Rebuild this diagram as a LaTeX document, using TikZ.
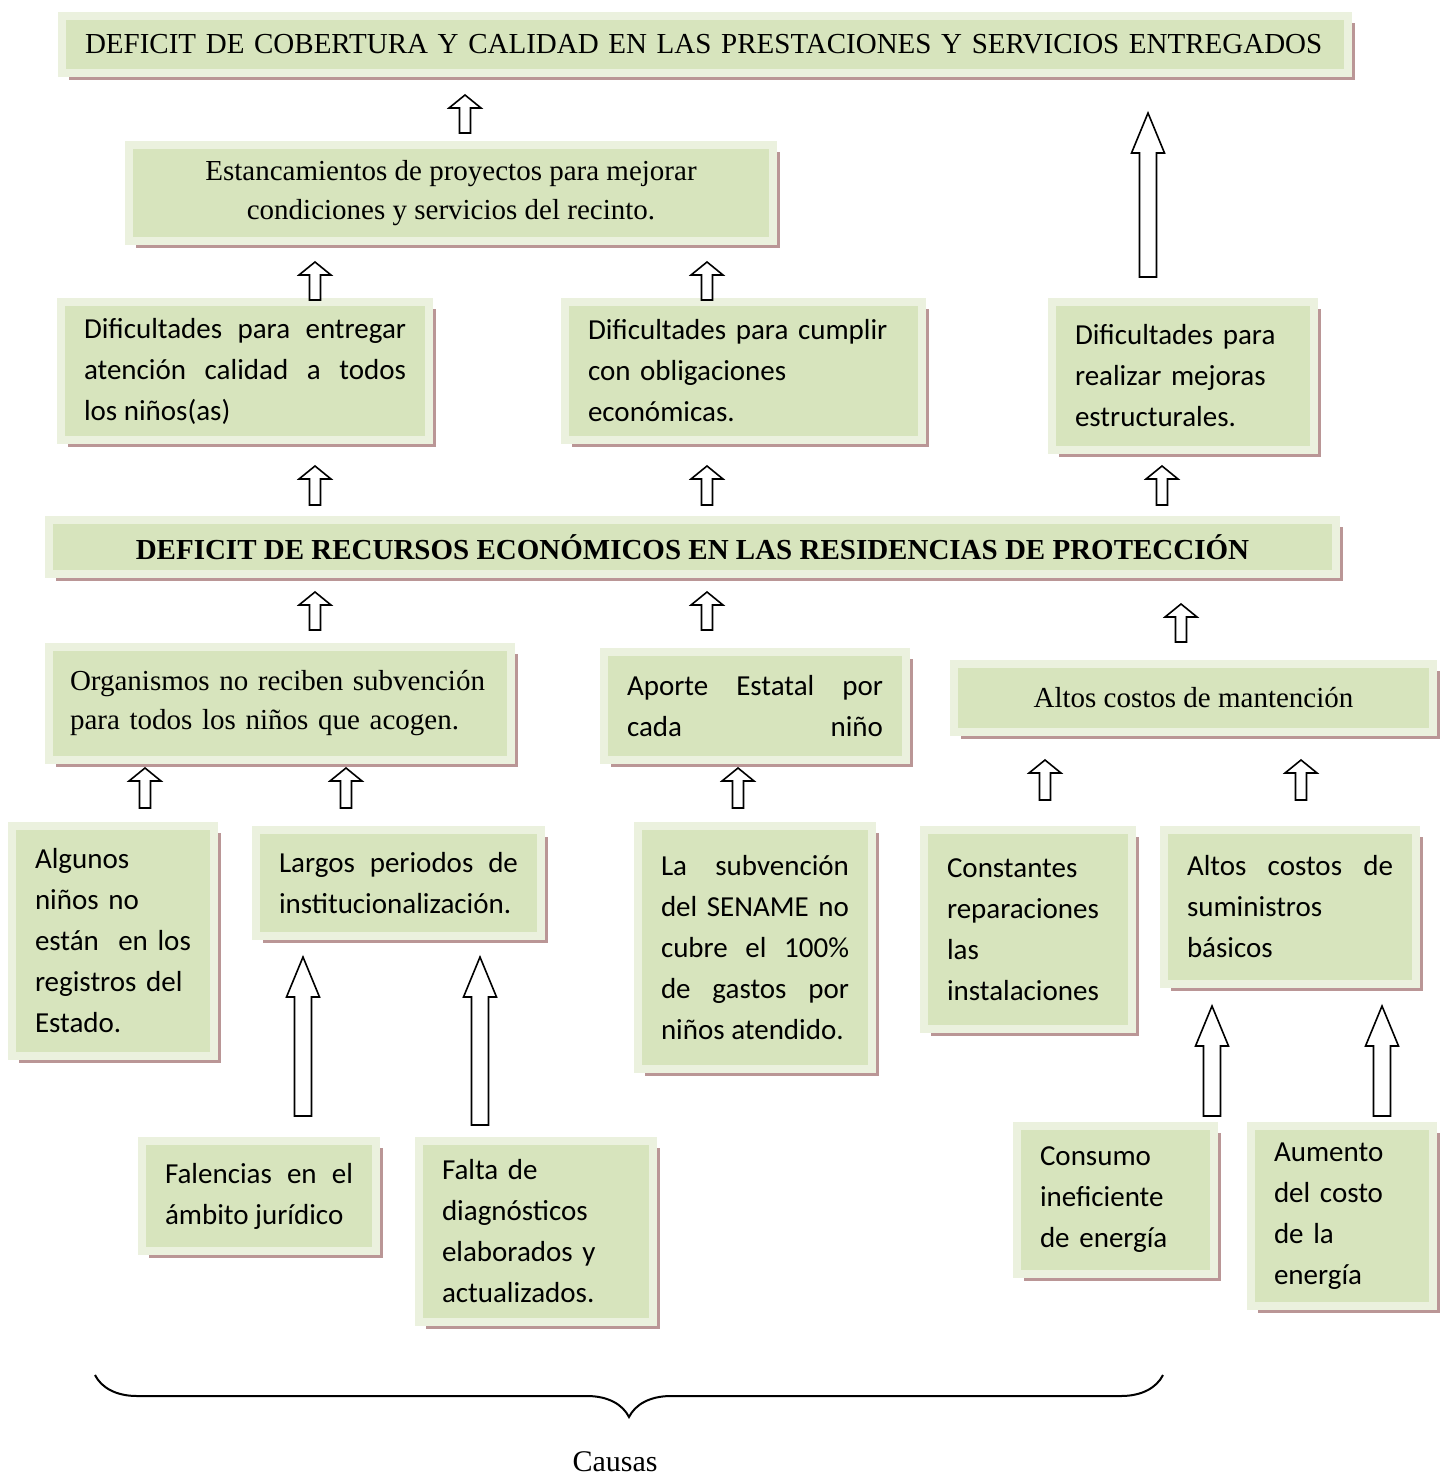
\documentclass[tikz,border=0pt]{standalone}
\usepackage{fontspec}
\setmainfont{Liberation Serif}
\newfontfamily\calibri{Carlito}
\usetikzlibrary{calc, shadows, decorations.pathreplacing}
\definecolor{verdecaja}{RGB}{215, 228, 189}
\definecolor{bordecaja}{RGB}{235, 241, 222}
\definecolor{sombracaja}{RGB}{186, 150, 150}
\hyphenpenalty=10000
\exhyphenpenalty=10000

\begin{document}
\begin{tikzpicture}[x=0.5pt, y=-0.5pt,
    caja/.style={draw=bordecaja, fill=verdecaja, line width=4pt, outer sep=0pt, anchor=north west, inner xsep=11.5pt, inner ysep=0pt,
        drop shadow={shadow xshift=3.5pt, shadow yshift=-3.5pt, fill=sombracaja, opacity=1}},
    letracal/.style={font=\calibri\fontsize{14.5}{20.5}\selectfont},
    letratnr/.style={font=\fontsize{14.5}{19.5}\selectfont},
    flecha/.style n args={3}{draw=black, fill=white, line width=0.8pt, line join=miter,
        to path={let \p1=(\tikztostart), \p2=(\tikztotarget) in
            (\x1-#1,\y1) -- (\x1-#1,\y2-#3) -- (\x1-#2,\y2-#3) -- (\x1,\y2) -- (\x1+#2,\y2-#3) -- (\x1+#1,\y2-#3) -- (\x1+#1,\y1) -- cycle}},
    flechita/.style={flecha={2.75pt}{8pt}{6.5pt}},
    flechota/.style={flecha={4.25pt}{8.25pt}{20pt}}]
    \useasboundingbox (0,0) rectangle (1450,1478);
    \fill[white] (0,0) rectangle (1450,1478);

    % efectos
    \node[caja, letratnr, minimum width=643pt, minimum height=28.5pt, text width=620pt, align=left] (efecto) at (62,16) {DEFICIT DE COBERTURA Y CALIDAD EN LAS PRESTACIONES Y SERVICIOS ENTREGADOS};
    \node[caja, letratnr, minimum width=322pt, minimum height=48pt, align=center] (estanc) at (129,145) {Estancamientos de proyectos para mejorar\\ condiciones y servicios del recinto.};
    \node[caja, letracal, minimum width=184pt, minimum height=69pt, text width=161pt, align=justify] (difatencion) at (61,302) {Dificultades para entregar\linebreak atención calidad a todos\linebreak los niños(as)};
    \node[caja, letracal, minimum width=178.5pt, minimum height=69pt, text width=155.5pt, align=left] (difpago) at (565,302) {Dificultades para cumplir\\ con obligaciones\\ económicas.};
    \node[caja, letracal, minimum width=131pt, minimum height=74pt, text width=108pt, align=left] (difmejoras) at (1052,302) {Dificultades para\\ realizar mejoras\\ estructurales.};

    % problema central
    \node[caja, font=\bfseries\fontsize{14.5}{19.5}\selectfont, minimum width=643.5pt, minimum height=27pt] (deficitrec) at (49,520) {DEFICIT DE RECURSOS ECONÓMICOS EN LAS RESIDENCIAS DE PROTECCIÓN};

    % causas
    \node[caja, letratnr, inner xsep=10.5pt, minimum width=231pt, minimum height=56.5pt, text width=210pt, align=left] (organismos) at (49,647) {Organismos no reciben subvención\\ para todos los niños que acogen.};
    \node[caja, letracal, minimum width=151pt, minimum height=54pt, text width=128pt, align=justify] (aporte) at (604,652) {Aporte Estatal por\linebreak cada \hfill niño};
    \node[caja, letratnr, minimum width=239.5pt, minimum height=34pt] (mantencion) at (954,664) {Altos costos de mantención};
    \node[caja, letracal, minimum width=101pt, minimum height=115pt, text width=78pt, align=left] (registros) at (12,826) {Algunos\\ niños no\\ están~ en los\\ registros del\\ Estado.};
    \node[caja, letracal, minimum width=142.5pt, minimum height=53pt, text width=119.5pt, align=justify] (largos) at (256,830) {Largos periodos de\linebreak institucionalización.};
    \node[caja, letracal, minimum width=117pt, minimum height=121.5pt, text width=94pt, align=justify] (subvencion) at (638,826) {La subvención\linebreak del SENAME no\linebreak cubre el 100\%\linebreak de gastos por\linebreak niños atendido.};
    \node[caja, letracal, minimum width=104pt, minimum height=99.5pt, text width=81pt, align=left] (reparaciones) at (924,830) {Constantes\\ reparaciones\\ las\\ instalaciones};
    \node[caja, letracal, minimum width=126pt, minimum height=77pt, text width=103pt, align=justify] (suministros) at (1164,830) {Altos costos de\linebreak suministros\newline básicos};
    \node[caja, letracal, minimum width=117pt, minimum height=55pt, text width=94pt, align=justify] (juridico) at (142,1141) {Falencias en el\linebreak ámbito jurídico};
    \node[caja, letracal, minimum width=117pt, minimum height=90.5pt, text width=94pt, align=left] (diagnosticos) at (419,1141) {Falta de\\ diagnósticos\\ elaborados y\\ actualizados.};
    \node[caja, letracal, minimum width=98.5pt, minimum height=74pt, text width=75.5pt, align=left] (consumo) at (1017,1126) {Consumo\\ ineficiente\\ de energía};
    \node[caja, letracal, minimum width=91pt, minimum height=90pt, text width=68pt, align=left] (aumento) at (1251,1126) {Aumento\\ del costo\\ de la\\ energía};

    % flechas
    \draw[flechita] ($(estanc.north -| 465,0)+(0,-12)$) to ($(efecto.south)+(0,22)$);
    \draw[flechita] ($(difatencion.north -| 315,0)+(0,-2)$) to ($(estanc.south)+(0,21)$);
    \draw[flechita] ($(difpago.north -| 707,0)+(0,-2)$) to ($(estanc.south)+(0,21)$);
    \draw[flechota] ($(difmejoras.north -| 1148,0)+(0,-25)$) to ($(efecto.south)+(0,40)$);
    \draw[flechita] ($(deficitrec.north -| 315,0)+(0,-15)$) to ($(difatencion.south)+(0,26)$);
    \draw[flechita] ($(deficitrec.north -| 707,0)+(0,-15)$) to ($(difpago.south)+(0,26)$);
    \draw[flechita] ($(deficitrec.north -| 1162,0)+(0,-15)$) to ($(difmejoras.south)+(0,16)$);
    \draw[flechita] ($(organismos.north -| 315,0)+(0,-17)$) to ($(deficitrec.south)+(0,18)$);
    \draw[flechita] ($(aporte.north -| 707,0)+(0,-22)$) to ($(deficitrec.south)+(0,18)$);
    \draw[flechita] ($(mantencion.north -| 1181,0)+(0,-22)$) to ($(deficitrec.south)+(0,30)$);
    \draw[flechita] ($(registros.north -| 145,0)+(0,-18)$) to ($(organismos.south)+(0,8)$);
    \draw[flechita] ($(largos.north -| 346,0)+(0,-22)$) to ($(organismos.south)+(0,8)$);
    \draw[flechita] ($(subvencion.north -| 738,0)+(0,-18)$) to ($(aporte.south)+(0,8)$);
    \draw[flechita] ($(reparaciones.north -| 1045,0)+(0,-30)$) to ($(mantencion.south)+(0,28)$);
    \draw[flechita] ($(suministros.north -| 1301,0)+(0,-30)$) to ($(mantencion.south)+(0,28)$);
    \draw[flechota] ($(juridico.north -| 303,0)+(0,-25)$) to ($(largos.south)+(0,21)$);
    \draw[flechota] ($(diagnosticos.north -| 480,0)+(0,-16)$) to ($(largos.south)+(0,21)$);
    \draw[flechota] ($(consumo.north -| 1212,0)+(0,-10)$) to ($(suministros.south)+(0,22)$);
    \draw[flechota] ($(aumento.north -| 1382,0)+(0,-10)$) to ($(suministros.south)+(0,22)$);

    % llave
    \coordinate (llaveizq) at (95,1375);
    \coordinate (llaveder) at (1163,1375);
    \draw[line width=1pt, decorate, decoration={brace, mirror, amplitude=21pt}] (llaveizq) -- (llaveder);
    \node[font=\fontsize{15}{18}\selectfont, inner sep=0pt] (causas) at (615,1462) {Causas};
\end{tikzpicture}
\end{document}
